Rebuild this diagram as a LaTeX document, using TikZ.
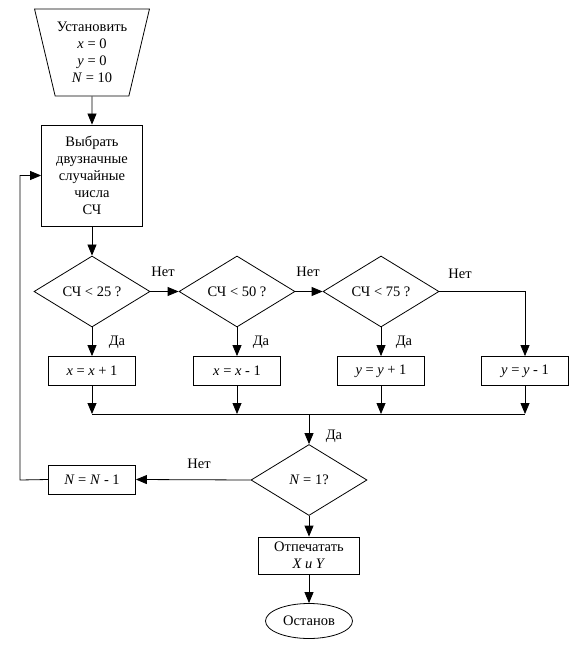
\documentclass[tikz,border=0pt]{standalone}
\usepackage{fontspec}
\setmainfont{Liberation Serif}
\usetikzlibrary{shapes.geometric, arrows.meta}

\begin{document}
\begin{tikzpicture}[x=1pt,y=-1pt,font=\fontsize{14.5}{17}\selectfont,line width=0.8pt,
        >={Triangle[length=11pt,width=9pt]},
        blok/.style={draw,rectangle,minimum width=87pt,minimum height=29pt,inner sep=1pt,align=center},
        uslovie/.style={draw,diamond,aspect=1.6,minimum width=116pt,minimum height=71pt,inner sep=1pt},
        metka/.style={inner sep=0pt}]
        \useasboundingbox (0,0) rectangle (581,652);
        % blocks
        \node[draw,trapezium,shape border rotate=180,trapezium left angle=72,trapezium right angle=72,
              trapezium stretches=true,minimum width=115pt,minimum height=87pt,inner sep=0pt,align=center]
              (ustanovka) at (92,52.5) {Установить\\\textit{x} = 0\\\textit{y} = 0\\\textit{N} = 10};
        \node[blok,minimum width=101pt,minimum height=101pt] (vybor) at (92,175.5)
              {Выбрать\\двузначные\\случайные\\числа\\СЧ};
        \node[uslovie] (u25) at (92,291.5) {СЧ < 25 ?};
        \node[uslovie] (u50) at (237,291.5) {СЧ < 50 ?};
        \node[uslovie] (u75) at (381,291.5) {СЧ < 75 ?};
        \node[blok] (xplus) at (92,371) {\textit{x} = \textit{x} + 1};
        \node[blok] (xminus) at (237,371) {\textit{x} = \textit{x} - 1};
        \node[blok] (yplus) at (381,371) {\textit{y} = \textit{y} + 1};
        \node[blok] (yminus) at (525,371) {\textit{y} = \textit{y} - 1};
        \node[uslovie] (uN) at (309,480) {\textit{N} = 1?};
        \node[blok] (Nminus) at (92,479.5) {\textit{N} = \textit{N} - 1};
        \node[blok,minimum width=101pt,minimum height=37pt] (pechat) at (309,555.5)
              {Отпечатать\\\textit{X и Y}};
        \node[draw,ellipse,minimum width=87pt,minimum height=35pt,inner sep=0pt] (ostanov) at (309,621) {Останов};
        % labels
        \node[metka] (net1) at (163,272) {Нет};
        \node[metka] (net2) at (308,272) {Нет};
        \node[metka] (net3) at (460,274) {Нет};
        \node[metka] (net4) at (199,464) {Нет};
        \node[metka] (da1) at (117,342) {Да};
        \node[metka] (da2) at (261,342) {Да};
        \node[metka] (da3) at (404,342) {Да};
        \node[metka] (da4) at (334,436) {Да};
        % junctions
        \coordinate (s1) at (92,414);
        \coordinate (s2) at (237,414);
        \coordinate (s3) at (381,414);
        \coordinate (s4) at (525,414);
        \coordinate (sN) at (309,414);
        \coordinate (petlya) at (20,480);
        % connectors
        \draw[->] (ustanovka) -- (vybor);
        \draw[->] (vybor) -- (u25);
        \draw[->] (u25.east) -- (u50.west);
        \draw[->] (u50.east) -- (u75.west);
        \draw[->] (u75.east) -| (yminus.north);
        \draw[->] (u25.south) -- (xplus.north);
        \draw[->] (u50.south) -- (xminus.north);
        \draw[->] (u75.south) -- (yplus.north);
        \draw[->] (xplus.south) -- (s1);
        \draw[->] (xminus.south) -- (s2);
        \draw[->] (yplus.south) -- (s3);
        \draw[->] (yminus.south) -- (s4);
        \draw (s1) -- (s4);
        \draw[->] (sN) -- (uN.north);
        \draw[->] (uN.west) -- (Nminus.east);
        \draw[->] (Nminus.west) -- (petlya) |- (vybor.west);
        \draw[->] (uN.south) -- (pechat.north);
        \draw[->] (pechat.south) -- (ostanov.north);
\end{tikzpicture}
\end{document}
